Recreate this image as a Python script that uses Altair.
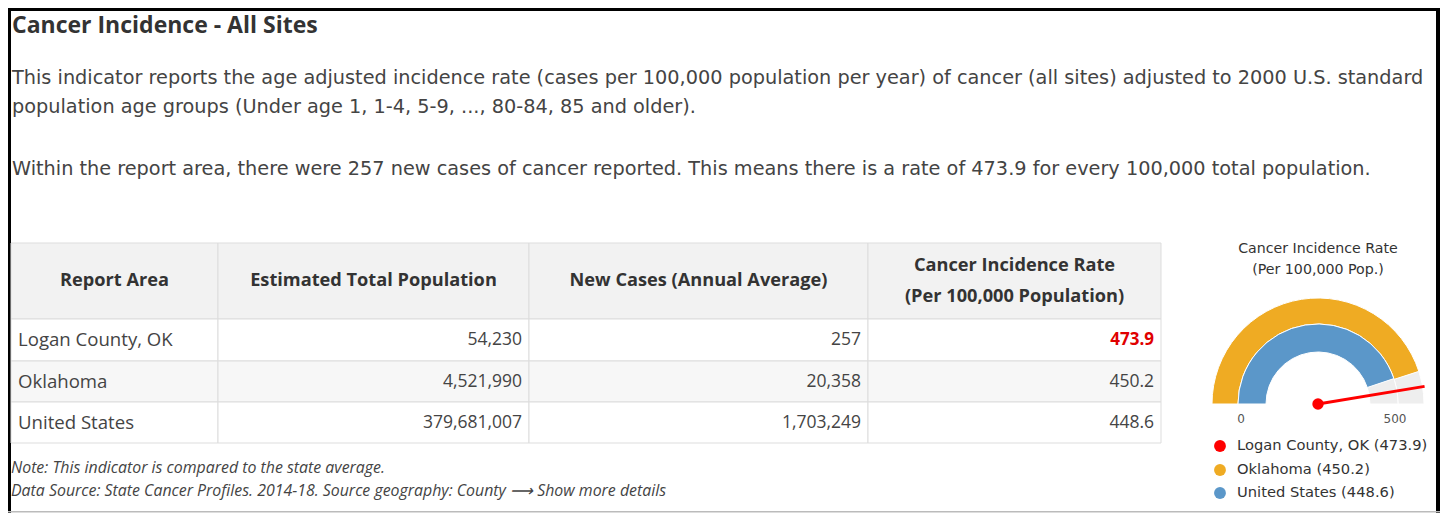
import math
import altair as alt
import pandas as pd

# ---------------- data ----------------
TITLE = "Cancer Incidence - All Sites"
INTRO_LINES = [
    "This indicator reports the age adjusted incidence rate (cases per 100,000 population per year) of cancer (all sites) adjusted to 2000 U.S. standard",
    "population age groups (Under age 1, 1-4, 5-9, ..., 80-84, 85 and older).",
    "Within the report area, there were 257 new cases of cancer reported. This means there is a rate of 473.9 for every 100,000 total population.",
]
HEADERS = [
    "Report Area",
    "Estimated Total Population",
    "New Cases (Annual Average)",
    "Cancer Incidence Rate\n(Per 100,000 Population)",
]
areas = ["Logan County, OK", "Oklahoma", "United States"]
population = [54230, 4521990, 379681007]
new_cases = [257, 20358, 1703249]
rates = [473.9, 450.2, 448.6]
NOTES = [
    "Note: This indicator is compared to the state average.",
    "Data Source: State Cancer Profiles. 2014-18. Source geography: County  \u27f6  Show more details",
]
GAUGE_TITLE = "Cancer Incidence Rate\n(Per 100,000 Pop.)"
GAUGE_MAX = 500
gauge_ticks = [0, 500]
series_colors = ["#ff0000", "#efab23", "#5b97c9"]

# ---------------- layout ----------------
def X(x):
    return x - 8


def Y(y):
    return y - 8


W, H = 1432, 505
FONT = "Open Sans"
FONT_WIDE = "DejaVu Sans"
TXT = "#444444"
DARK = "#333333"

col_edges = [11, 218, 529, 868, 1161]
row_edges = [243, 319, 361, 402, 443]

GX, GY = X(1318), Y(404)
R_OUT, R_MID, R_IN = 106, 80, 52

one = pd.DataFrame({"k": [0]})
layers = []

# border
for (x0, x1, y0, y1, c) in [
    (0, 3, 0, H, "black"),
    (0, W, 0, 3, "black"),
    (W - 4, W, 0, H, "black"),
    (0, W, 503, 504.5, "#bbbbbb"),
]:
    layers.append(
        alt.Chart(one).mark_rect(color=c).encode(
            x=alt.value(x0), x2=alt.value(x1), y=alt.value(y0), y2=alt.value(y1)
        )
    )

# title
layers.append(
    alt.Chart(one).mark_text(
        align="left", baseline="alphabetic", font=FONT, fontSize=23, fontWeight="bold", color=DARK
    ).encode(x=alt.value(X(12)), y=alt.value(Y(33)), text=alt.value(TITLE))
)

# intro
intro_df = pd.DataFrame({"text": INTRO_LINES, "x": [X(12)] * 3, "y": [Y(78), Y(107), Y(169)]})
layers.append(
    alt.Chart(intro_df).mark_text(
        align="left", baseline="middle", font=FONT_WIDE, fontSize=19.3, color=TXT
    ).encode(
        x=alt.X("x:Q", scale=None, axis=None),
        y=alt.Y("y:Q", scale=None, axis=None),
        text="text:N",
    )
)

# table cells
cells = []
for r in range(4):
    for c in range(4):
        fill = "#f2f2f2" if r == 0 else ("#f7f7f7" if r == 2 else "#ffffff")
        cells.append(
            dict(
                x0=X(col_edges[c]), x1=X(col_edges[c + 1]),
                y0=Y(row_edges[r]), y1=Y(row_edges[r + 1]), fill=fill,
            )
        )
cells_df = pd.DataFrame(cells)
layers.append(
    alt.Chart(cells_df).mark_rect(stroke="#dddddd", strokeWidth=1).encode(
        x=alt.X("x0:Q", scale=None, axis=None), x2="x1:Q",
        y=alt.Y("y0:Q", scale=None, axis=None), y2="y1:Q",
        fill=alt.Fill("fill:N", scale=None),
    )
)

# headers (multi-line text: first line drawn at y, so shift up by half the extra lines)
HDR_LH = 31
hdr_y = []
for h in HEADERS:
    n = h.count("\n")
    hdr_y.append(Y((row_edges[0] + row_edges[1]) / 2) - n * HDR_LH / 2)
hdr_df = pd.DataFrame({
    "text": HEADERS,
    "x": [X((col_edges[i] + col_edges[i + 1]) / 2) for i in range(4)],
    "y": hdr_y,
})
layers.append(
    alt.Chart(hdr_df).mark_text(
        align="center", baseline="middle", font=FONT, fontSize=18.2, fontWeight="bold",
        color=DARK, lineBreak="\n", lineHeight=HDR_LH,
    ).encode(
        x=alt.X("x:Q", scale=None, axis=None), y=alt.Y("y:Q", scale=None, axis=None), text="text:N"
    )
)

row_y = [Y((row_edges[i] + row_edges[i + 1]) / 2) for i in range(1, 4)]

# body: area names
area_df = pd.DataFrame({"text": areas, "x": [X(col_edges[0] + 7)] * 3, "y": row_y})
layers.append(
    alt.Chart(area_df).mark_text(
        align="left", baseline="middle", font=FONT, fontSize=18.6, color=TXT
    ).encode(x=alt.X("x:Q", scale=None, axis=None), y=alt.Y("y:Q", scale=None, axis=None), text="text:N")
)

# numbers
num_rows = []
for i in range(3):
    num_rows.append(dict(text=f"{population[i]:,}", x=X(col_edges[2] - 7), y=row_y[i]))
    num_rows.append(dict(text=f"{new_cases[i]:,}", x=X(col_edges[3] - 7), y=row_y[i]))
    if i > 0:
        num_rows.append(dict(text=f"{rates[i]:.1f}", x=X(col_edges[4] - 7), y=row_y[i]))
num_df = pd.DataFrame(num_rows)
layers.append(
    alt.Chart(num_df).mark_text(
        align="right", baseline="middle", font=FONT, fontSize=17.5, color=TXT
    ).encode(x=alt.X("x:Q", scale=None, axis=None), y=alt.Y("y:Q", scale=None, axis=None), text="text:N")
)
hi_df = pd.DataFrame({"text": [f"{rates[0]:.1f}"], "x": [X(col_edges[4] - 7)], "y": [row_y[0]]})
layers.append(
    alt.Chart(hi_df).mark_text(
        align="right", baseline="middle", font=FONT, fontSize=17, fontWeight="bold", color="#e00000"
    ).encode(x=alt.X("x:Q", scale=None, axis=None), y=alt.Y("y:Q", scale=None, axis=None), text="text:N")
)

# notes
notes_df = pd.DataFrame({"text": NOTES, "x": [X(11)] * 2, "y": [Y(468), Y(491)]})
layers.append(
    alt.Chart(notes_df).mark_text(
        align="left", baseline="middle", font=FONT, fontSize=15.9, fontStyle="italic", color=TXT
    ).encode(x=alt.X("x:Q", scale=None, axis=None), y=alt.Y("y:Q", scale=None, axis=None), text="text:N")
)

# gauge title
G_LH = 21
layers.append(
    alt.Chart(one).mark_text(
        align="center", baseline="middle", font=FONT_WIDE, fontSize=14.2, color=DARK,
        lineBreak="\n", lineHeight=G_LH,
    ).encode(x=alt.value(GX), y=alt.value(Y(248.5)), text=alt.value(GAUGE_TITLE))
)

theta_scale = alt.Scale(domain=[0, GAUGE_MAX], range=[-math.pi / 2, math.pi / 2])

gauge_df = pd.DataFrame({
    "name": areas, "value": rates, "color": series_colors,
    "start": [0, 0, 0], "full": [GAUGE_MAX] * 3,
})

# background arcs
for (ro, ri) in [(R_OUT, R_MID), (R_MID, R_IN)]:
    layers.append(
        alt.Chart(gauge_df.iloc[[0]]).mark_arc(
            radius=ro, radius2=ri, color="#eeeeee", stroke="white", strokeWidth=1
        ).encode(
            x=alt.value(GX), y=alt.value(GY),
            theta=alt.Theta("start:Q", scale=theta_scale, stack=None),
            theta2=alt.Theta2("full:Q"),
        )
    )
# value arcs: Oklahoma outer, US inner
for (idx, ro, ri) in [(1, R_OUT, R_MID), (2, R_MID, R_IN)]:
    layers.append(
        alt.Chart(gauge_df.iloc[[idx]]).mark_arc(
            radius=ro, radius2=ri, stroke="white", strokeWidth=1
        ).encode(
            x=alt.value(GX), y=alt.value(GY),
            theta=alt.Theta("start:Q", scale=theta_scale, stack=None),
            theta2=alt.Theta2("value:Q"),
            color=alt.Color("color:N", scale=None),
        )
    )

# needle
NEEDLE_LEN = 108
ang = f"datum.value / {GAUGE_MAX} * PI - PI / 2"
layers.append(
    alt.Chart(gauge_df.iloc[[0]]).transform_calculate(
        cx=f"{GX}", cy=f"{GY}",
        nx=f"{GX} + {NEEDLE_LEN} * sin({ang})",
        ny=f"{GY} - {NEEDLE_LEN} * cos({ang})",
    ).mark_rule(color="#ff0000", strokeWidth=3).encode(
        x=alt.X("cx:Q", scale=None, axis=None), x2="nx:Q",
        y=alt.Y("cy:Q", scale=None, axis=None), y2="ny:Q",
    )
)
layers.append(
    alt.Chart(gauge_df.iloc[[0]]).mark_point(
        filled=True, shape="circle", size=130, opacity=1, color="#ff0000"
    ).encode(x=alt.value(GX), y=alt.value(GY))
)

# tick labels 0 / 500
R_LBL = 77
tick_df = pd.DataFrame({"v": gauge_ticks, "label": [str(t) for t in gauge_ticks]})
layers.append(
    alt.Chart(tick_df).transform_calculate(
        tx=f"{GX} + {R_LBL} * sin(datum.v / {GAUGE_MAX} * PI - PI / 2)",
        ty=f"{GY} + 15",
    ).mark_text(align="center", baseline="middle", font=FONT_WIDE, fontSize=12, color="#555555").encode(
        x=alt.X("tx:Q", scale=None, axis=None), y=alt.Y("ty:Q", scale=None, axis=None), text="label:N"
    )
)

# legend
leg_df = pd.DataFrame({
    "label": [f"{a} ({r:.1f})" for a, r in zip(areas, rates)],
    "color": series_colors,
    "y": [Y(446), Y(470), Y(493)],
})
layers.append(
    alt.Chart(leg_df).mark_point(filled=True, shape="circle", size=140, opacity=1).encode(
        x=alt.value(X(1220)), y=alt.Y("y:Q", scale=None, axis=None), color=alt.Color("color:N", scale=None)
    )
)
layers.append(
    alt.Chart(leg_df).mark_text(align="left", baseline="middle", font=FONT_WIDE, fontSize=14.7, color=DARK).encode(
        x=alt.value(X(1237)), y=alt.Y("y:Q", scale=None, axis=None), text="label:N"
    )
)

chart = alt.layer(*layers).properties(
    width=W, height=H, autosize="none", padding=0
).configure_view(stroke=None)

chart.save("out.html", embed_options={"renderer": "svg", "actions": False})
